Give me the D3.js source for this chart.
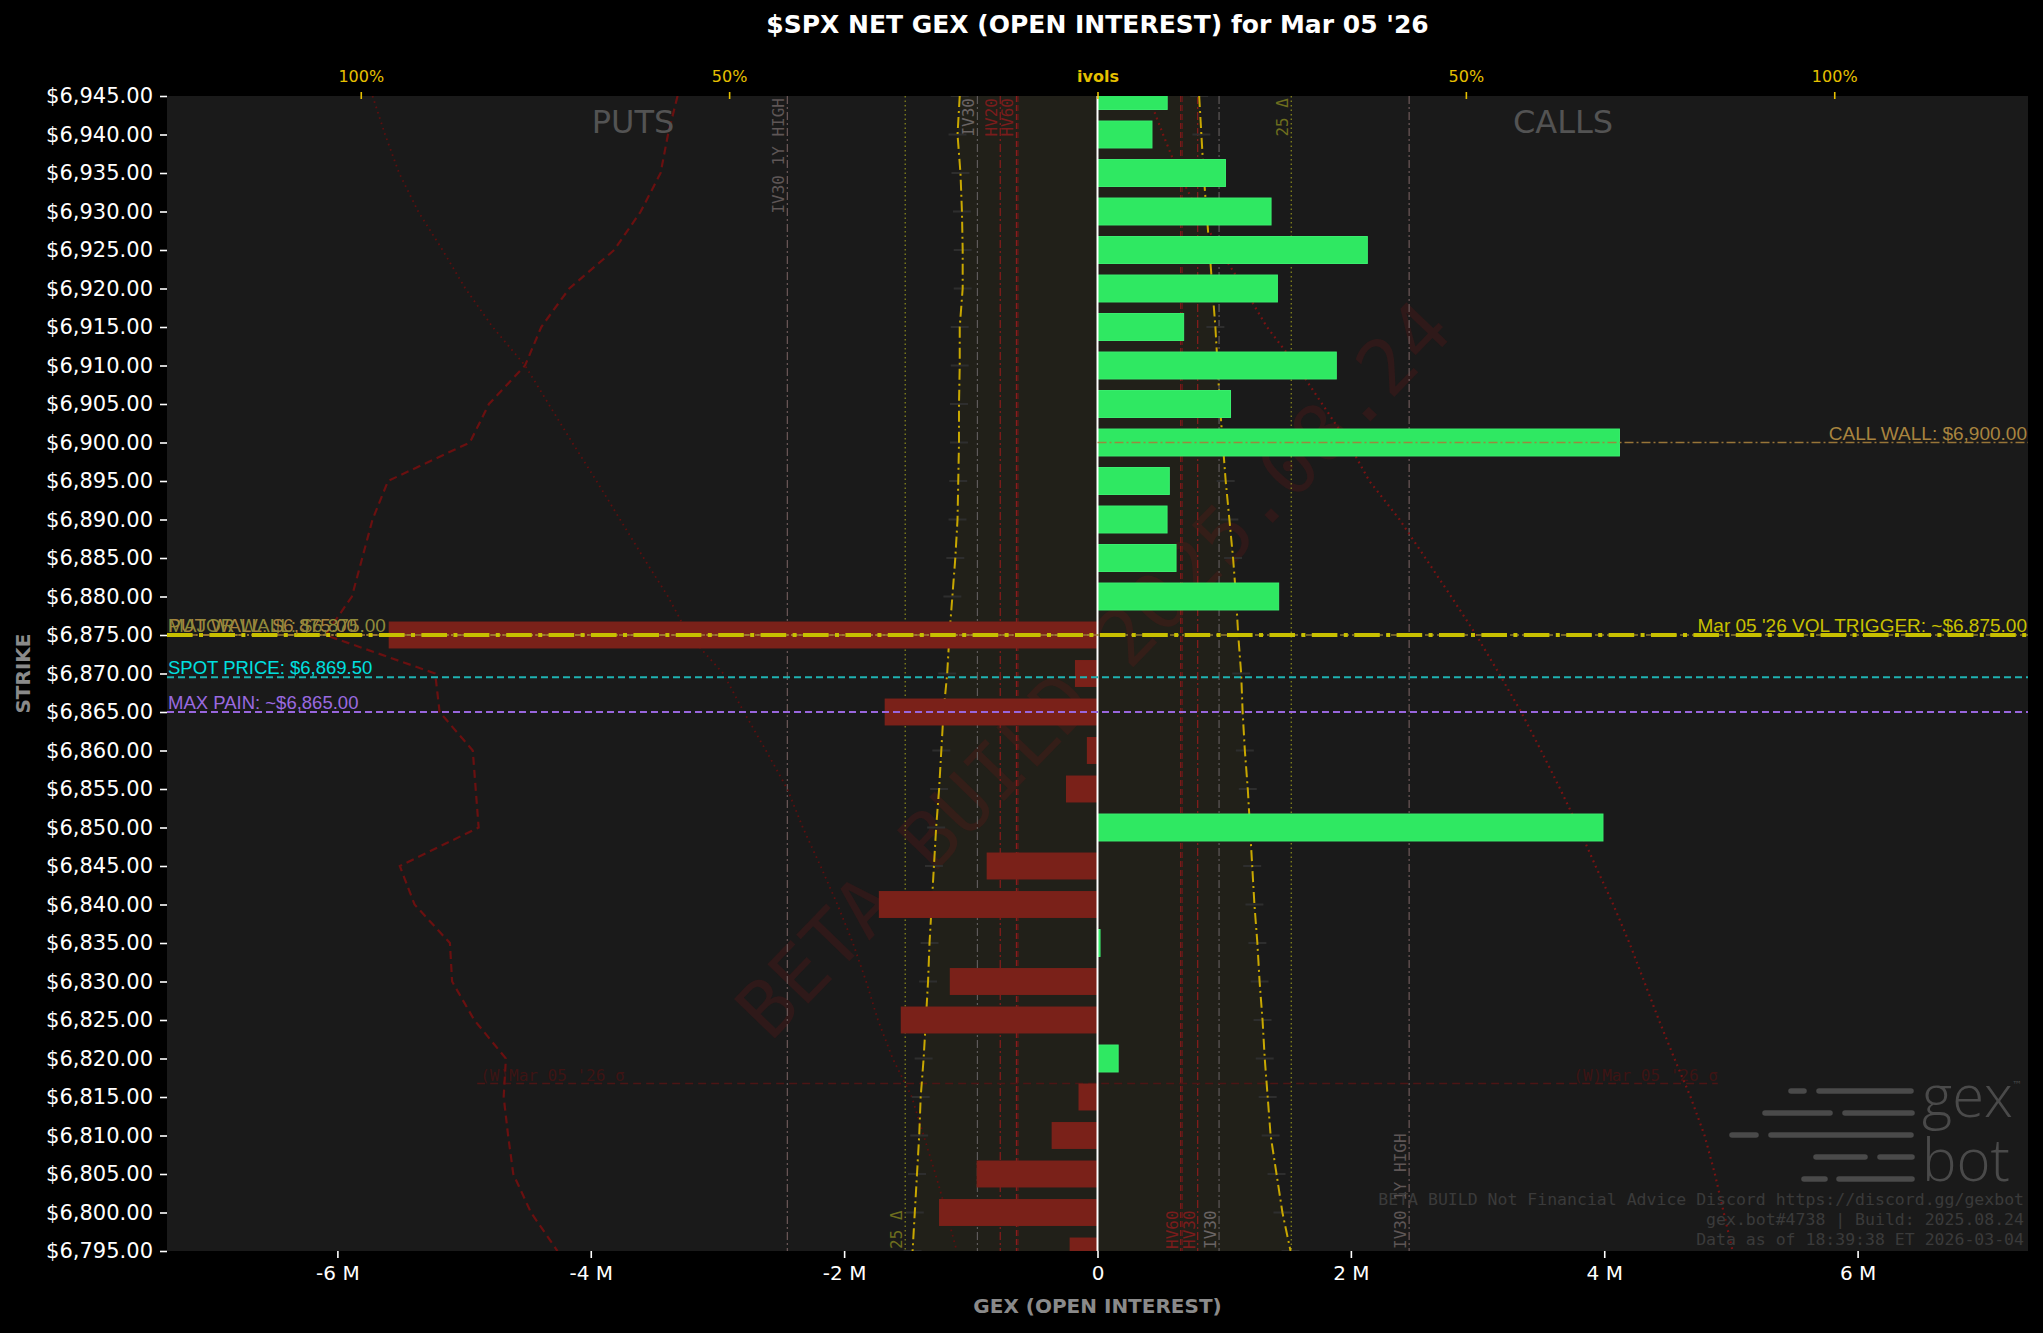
<!DOCTYPE html>
<html><head><meta charset="utf-8">
<script src="https://cdn.jsdelivr.net/npm/d3@7"></script>
<style>html,body{margin:0;padding:0;background:#000;}svg{display:block}</style>
</head><body><svg id="c" width="2043" height="1333"></svg>
<script>
// ---------------- DATA ----------------
const strikes = [6945,6940,6935,6930,6925,6920,6915,6910,6905,6900,6895,6890,6885,6880,6875,6870,6865,6860,6855,6850,6845,6840,6835,6830,6825,6820,6815,6810,6805,6800,6795];
// net GEX (millions)
const netGex = [0.55,0.43,1.01,1.37,2.13,1.42,0.68,1.885,1.05,4.12,0.567,0.549,0.62,1.43,-5.595,-0.178,-1.68,-0.084,-0.249,3.99,-0.875,-1.726,0.02,-1.166,-1.553,0.163,-0.15,-0.362,-0.954,-1.251,-0.22];
// implied vols (%), put side drawn to the left, call side to the right
const putIvol  = [18.7,19.0,18.6,18.4,18.3,18.3,18.7,18.7,18.8,18.8,18.9,19.0,19.3,19.7,20.1,20.4,20.9,21.2,21.5,21.9,22.2,22.5,22.8,23.0,23.3,23.6,24.0,24.2,24.5,24.8,25.1];
const callIvol = [13.8,14.1,14.4,14.8,15.2,15.6,16.0,16.3,16.6,17.0,17.4,17.9,18.4,18.8,19.1,19.5,19.7,20.0,20.4,20.7,21.0,21.3,21.7,22.0,22.4,22.7,23.1,23.5,24.3,25.1,26.2];
const putCurveDashed = [57.0,58.3,59.3,62.0,65.6,71.7,75.5,77.7,82.6,85.2,96.3,98.4,99.8,101.2,104.8,89.9,89.3,84.8,84.4,84.0,94.7,92.7,87.9,87.6,84.6,80.3,80.6,80.0,79.3,76.9,73.3];
const putCurveDotted = [98.4,96.7,94.8,92.2,88.9,85.8,82.1,77.7,74.5,71.3,68.0,64.8,61.6,58.3,55.5,50.8,48.0,45.0,42.1,40.0,37.6,35.3,33.2,31.4,29.8,27.8,25.2,23.6,22.0,20.5,19.1];
const callCurveDotted = [6.9,8.9,11.0,13.7,16.6,19.9,23.0,27.0,30.5,34.0,36.9,41.0,44.5,48.0,51.4,54.5,57.5,60.2,62.8,65.3,67.6,70.0,72.2,74.2,76.2,78.3,80.5,82.4,83.8,85.0,86.2];
// reference vol levels (%): put side / call side
const volLevelNames = ['IV30 1Y HIGH','IV30','HV20','HV60',''];
const volLevelCallNames = ['IV30 1Y HIGH','IV30','HV30','HV60',''];
const volLevelPut  = [42.1,16.3,13.2,11.0,10.8];
const volLevelCall = [42.3,16.5,13.6,11.3,11.5];
const delta25Put = 26.1, delta25Call = 26.3;
// price levels
const callWall = 6900, putWall = 6875, majorWall = 6875, volTrigger = 6875, spotPrice = 6869.5, maxPain = 6865;
const sigmaWeekly = 6816.75, sigmaSpan = 84.2;
// ticks
const gexTicks = [-6,-4,-2,0,2,4,6];
const ivolTicks = [-100,-50,0,50,100];
const gexDomain = [-7.345,7.345];
const ivolDomain = [-126.3,126.3];

// ---------------- LAYOUT ----------------
const W=2043,H=1333;
const P={l:167,r:2028,t:96,b:1251};
const svg=d3.select('#c');
svg.append('rect').attr('width',W).attr('height',H).attr('fill','#000');
const x=d3.scaleLinear().domain(gexDomain).range([P.l,P.r]);
const xv=d3.scaleLinear().domain(ivolDomain).range([P.l,P.r]);
const y=d3.scaleLinear().domain([6795,6945]).range([P.b,P.t]);
const fmt$=d3.format('$,.2f');
const rows=strikes.map((s,i)=>({s,g:netGex[i],p:putIvol[i],c:callIvol[i],pd:putCurveDashed[i],pt:putCurveDotted[i],ct:callCurveDotted[i]}));

svg.append('rect').attr('x',P.l).attr('y',P.t).attr('width',P.r-P.l).attr('height',P.b-P.t).attr('fill','#1a1a1a');
svg.append('defs').append('clipPath').attr('id','clip').append('rect').attr('x',P.l).attr('y',P.t).attr('width',P.r-P.l).attr('height',P.b-P.t);
const g=svg.append('g').attr('clip-path','url(#clip)');

// band between ivol curves
g.append('path').datum(rows).attr('fill','rgba(230,205,0,0.035)')
 .attr('d',d3.area().y(d=>y(d.s)).x0(d=>xv(-d.p)).x1(d=>xv(d.c)));

// watermark
g.append('text').attr('transform',`translate(${x(0)},${(P.t+P.b)/2}) rotate(-46)`)
 .attr('text-anchor','middle').attr('dominant-baseline','middle')
 .style('font-family','DejaVu Sans Mono').style('font-size','78px')
 .attr('fill','rgba(125,22,22,0.22)').text('BETA BUILD 2025.08.24');

// vertical vol level lines
const vStyles=[{c:'#6e5a5a',d:'8 3 2 3',lc:'#5e5656'},{c:'#5e5a5a',d:'8 3 2 3',lc:'#6a6464'},{c:'#8a1c1c',d:'8 3 2 3',lc:'#7a1c1c'},{c:'#8a1c1c',d:'6 3',lc:'#7a1c1c'},{c:'#6a1818',d:'6 3',lc:'#6a1818'}];
const monoLbl=(sel)=>sel.style('font-family','DejaVu Sans Mono').style('font-size','16px');
volLevelPut.forEach((v,i)=>{
  const st=vStyles[i];
  [[-v,volLevelNames[i],'top'],[volLevelCall[i],volLevelCallNames[i],'bottom']].forEach(([val,name,pos])=>{
    const xx=xv(val);
    g.append('line').attr('x1',xx).attr('x2',xx).attr('y1',P.t).attr('y2',P.b)
     .attr('stroke',st.c).attr('stroke-width',1.2).attr('stroke-dasharray',st.d);
    if(name){
      const t=g.append('text').attr('fill',st.lc).text(name);
      monoLbl(t);
      if(pos==='top') t.attr('transform',`translate(${xx-3},${P.t+2}) rotate(-90)`).attr('text-anchor','end');
      else t.attr('transform',`translate(${xx-3},${P.b-2}) rotate(-90)`).attr('text-anchor','start');
    }
  });
});
// 25 delta lines
[[-delta25Put,'bottom'],[delta25Call,'top']].forEach(([val,pos])=>{
  const xx=xv(val);
  g.append('line').attr('x1',xx).attr('x2',xx).attr('y1',P.t).attr('y2',P.b)
   .attr('stroke','#8c8c1c').attr('stroke-width',1.2).attr('stroke-dasharray','1.5 3');
  const t=g.append('text').attr('fill','#6e6e1e').text('25 Δ');
  monoLbl(t);
  if(pos==='top') t.attr('transform',`translate(${xx-3},${P.t+2}) rotate(-90)`).attr('text-anchor','end');
  else t.attr('transform',`translate(${xx-3},${P.b-2}) rotate(-90)`).attr('text-anchor','start');
});

// weekly sigma line
g.append('line').attr('x1',xv(-sigmaSpan)).attr('x2',xv(sigmaSpan)).attr('y1',y(sigmaWeekly)).attr('y2',y(sigmaWeekly))
 .attr('stroke','#4c1515').attr('stroke-width',1.6).attr('stroke-dasharray','8 5');
[[xv(-sigmaSpan),'start'],[xv(sigmaSpan),'end']].forEach(([xx,a])=>{
  g.append('text').attr('x',xx+(a==='start'?3:0)).attr('y',y(sigmaWeekly)-3).attr('text-anchor',a)
   .style('font-family','DejaVu Sans Mono').style('font-size','16px').attr('fill','#3e1414').text("(W)Mar 05 '26 σ");
});

// red curves
const lineL=(acc)=>d3.line().y(d=>y(d.s)).x(acc);
g.append('path').datum(rows).attr('fill','none').attr('stroke','#6a1010').attr('stroke-width',2.2).attr('stroke-dasharray','8 5')
 .attr('d',lineL(d=>xv(-d.pd)));
g.append('path').datum(rows).attr('fill','none').attr('stroke','#5e0f0f').attr('stroke-width',1.8).attr('stroke-dasharray','1.6 4')
 .attr('d',lineL(d=>xv(-d.pt)));
g.append('path').datum(rows).attr('fill','none').attr('stroke','#7a1212').attr('stroke-width',2.2).attr('stroke-dasharray','1.8 4')
 .attr('d',lineL(d=>xv(d.ct)));

// small grey markers on ivol curves
rows.forEach(d=>{
  [xv(-d.p),xv(d.c)].forEach(xx=>{
    g.append('line').attr('x1',xx-9).attr('x2',xx+9).attr('y1',y(d.s)).attr('y2',y(d.s)).attr('stroke','#2e2e2e').attr('stroke-width',2);
  });
});
// ivol curves
g.append('path').datum(rows).attr('fill','none').attr('stroke','#c9a800').attr('stroke-width',2).attr('stroke-dasharray','11 4 2 4')
 .attr('d',lineL(d=>xv(-d.p)));
g.append('path').datum(rows).attr('fill','none').attr('stroke','#c9a800').attr('stroke-width',2).attr('stroke-dasharray','11 4 2 4')
 .attr('d',lineL(d=>xv(d.c)));

// bars
const bh=(y(6795)-y(6795+5))*0.7;
g.selectAll('rect.bar').data(rows).join('rect').attr('class','bar')
 .attr('x',d=>Math.min(x(0),x(d.g))).attr('width',d=>Math.abs(x(d.g)-x(0)))
 .attr('y',d=>y(d.s)-bh/2).attr('height',bh)
 .attr('fill',d=>d.g>=0?'#2fe862':'#7a2119')
 .attr('stroke',d=>d.g>=0?'#3cf070':'none').attr('stroke-width',1);

// zero line
g.append('line').attr('x1',x(0)).attr('x2',x(0)).attr('y1',P.t).attr('y2',P.b).attr('stroke','#fff').attr('stroke-width',2);

// horizontal level lines
const hl=(s,x1,x2,c,w,d,op)=>g.append('line').attr('x1',x1).attr('x2',x2).attr('y1',y(s)).attr('y2',y(s))
  .attr('stroke',c).attr('stroke-width',w).attr('stroke-dasharray',d).attr('opacity',op||1);
hl(callWall,x(0),P.r,'#a67f3c',1.6,'9 3 2 3',0.9);
hl(majorWall,P.l,P.r,'#9a8236',1.6,'9 3 2 3',0.9);
hl(putWall,P.l,x(0),'#a67f3c',1.6,'6 2 2 2',0.9);
hl(volTrigger,P.l,P.r,'#c8c000',4,'25.6 6.4 4 6.4');
hl(spotPrice,P.l,P.r,'#1fb3b3',2,'7 4');
hl(maxPain,P.l,P.r,'#9966dd',2,'7 4');

const lab=(s,txt,c,anchor,fs)=>svg.append('text').attr('x',anchor==='end'?P.r-1:P.l+1).attr('y',y(s)-3)
  .attr('text-anchor',anchor).style('font-family','Liberation Sans').style('font-size',(fs||19)+'px').attr('fill',c).text(txt);
lab(callWall,'CALL WALL: '+fmt$(callWall),'#a8843f','end');
lab(volTrigger,"Mar 05 '26 VOL TRIGGER: ~"+fmt$(volTrigger),'#c8c000','end');
lab(putWall,'PUT WALL: '+fmt$(putWall),'#a8843f','start');
lab(majorWall,'MAJOR WALL: '+fmt$(majorWall),'#8f8a3a','start');
lab(spotPrice,'SPOT PRICE: '+fmt$(spotPrice),'#00e0e0','start',18.5);
lab(maxPain,'MAX PAIN: ~'+fmt$(maxPain),'#9a6ae0','start',18.5);

// PUTS / CALLS
svg.append('text').attr('x',633).attr('y',133).attr('text-anchor','middle').style('font-family','DejaVu Sans').style('font-size','32px').attr('fill','#535353').text('PUTS');
svg.append('text').attr('x',1563).attr('y',133).attr('text-anchor','middle').style('font-family','DejaVu Sans').style('font-size','32px').attr('fill','#535353').text('CALLS');

// logo
const logo=svg.append('g').attr('stroke','#4a4a4a').attr('stroke-width',5.5).attr('stroke-linecap','round');
[[1791,1804,1091],[1819,1911,1091],[1765,1830,1113],[1845,1912,1113],[1732,1756,1135],[1771,1911,1135],[1816,1865,1157],[1880,1912,1157],[1804,1825,1179],[1839,1912,1179]]
 .forEach(s=>logo.append('line').attr('x1',s[0]).attr('x2',s[1]).attr('y1',s[2]).attr('y2',s[2]));
svg.append('text').attr('x',1922).attr('y',1117).style('font-family','Open Sans').style('font-weight',300).style('font-size','58px').attr('fill','#4a4a4a').text('gex');
svg.append('text').attr('x',1922).attr('y',1181).style('font-family','Open Sans').style('font-weight',300).style('font-size','58px').attr('fill','#4a4a4a').text('bot');
svg.append('text').attr('x',2012).attr('y',1088).style('font-family','DejaVu Sans').style('font-size','10px').attr('fill','#4a4a4a').text('™');

// footnote
['BETA BUILD Not Financial Advice Discord https://discord.gg/gexbot','gex.bot#4738 | Build: 2025.08.24','Data as of 18:39:38 ET 2026-03-04']
 .forEach((t,i)=>svg.append('text').attr('x',2024).attr('y',1205+i*20).attr('text-anchor','end')
   .style('font-family','DejaVu Sans Mono').style('font-size','16.5px').attr('fill','#3b3b3b').text(t));

// axes
const ax=(sel)=>{sel.select('.domain').remove();};
const xAxis=svg.append('g').attr('transform',`translate(0,${P.b})`)
 .call(d3.axisBottom(x).tickValues(gexTicks).tickFormat(d=>d===0?'0':d+' M').tickSize(7).tickPadding(8)).call(ax);
xAxis.selectAll('line').attr('stroke','#fff').attr('stroke-width',1.6);
xAxis.selectAll('text').attr('fill','#fff').style('font-family','DejaVu Sans').style('font-size','20px');
const yAxis=svg.append('g').attr('transform',`translate(${P.l},0)`)
 .call(d3.axisLeft(y).tickValues(strikes).tickFormat(fmt$).tickSize(7).tickPadding(7)).call(ax);
yAxis.selectAll('line').attr('stroke','#fff').attr('stroke-width',1.6);
yAxis.selectAll('text').attr('fill','#fff').style('font-family','DejaVu Sans').style('font-size','21px');
const tAxis=svg.append('g').attr('transform',`translate(0,${P.t+3})`)
 .call(d3.axisTop(xv).tickValues(ivolTicks).tickFormat(d=>d===0?'ivols':Math.abs(d)+'%').tickSize(7).tickPadding(10)).call(ax);
tAxis.selectAll('line').attr('stroke','#e6c000').attr('stroke-width',1.6);
tAxis.selectAll('text').attr('fill','#e6c000').style('font-family','DejaVu Sans').style('font-size','16px')
 .style('font-weight',d=>d===0?'bold':'normal');

// titles
svg.append('text').attr('x',(P.l+P.r)/2).attr('y',33).attr('text-anchor','middle').style('font-family','DejaVu Sans').style('font-weight','bold').style('font-size','25px').attr('fill','#fff')
 .text("$SPX NET GEX (OPEN INTEREST) for Mar 05 '26");
svg.append('text').attr('x',(P.l+P.r)/2).attr('y',1313).attr('text-anchor','middle').style('font-family','DejaVu Sans').style('font-weight','bold').style('font-size','20px').attr('fill','#8a8a8a')
 .text('GEX (OPEN INTEREST)');
svg.append('text').attr('transform',`translate(30,${(P.t+P.b)/2}) rotate(-90)`).attr('text-anchor','middle').style('font-family','DejaVu Sans').style('font-weight','bold').style('font-size','20px').attr('fill','#8a8a8a')
 .text('STRIKE');
</script></body></html>
